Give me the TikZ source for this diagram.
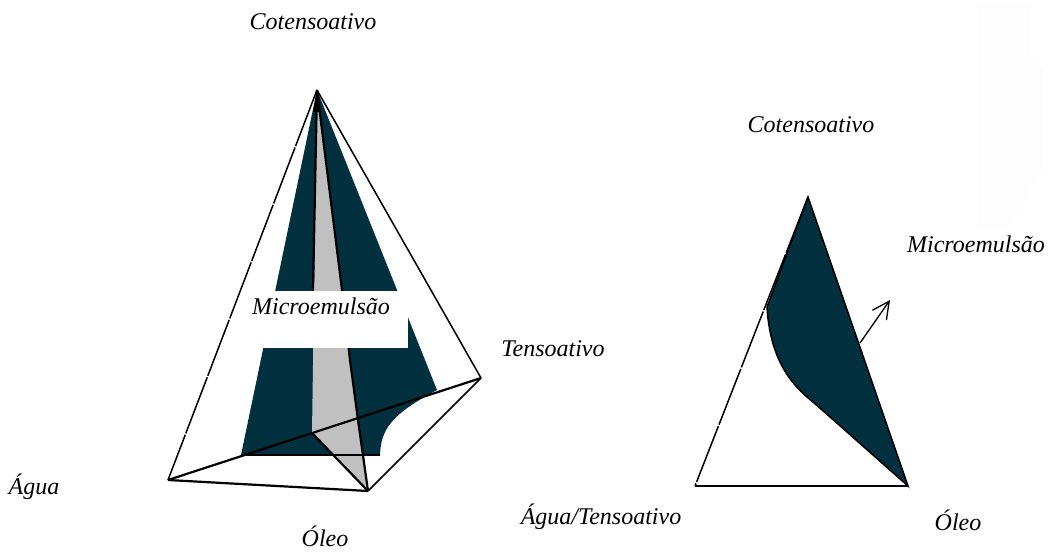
\documentclass[tikz,border=0pt]{standalone}
\usepackage{fontspec}
\setmainfont{Liberation Serif}
\usetikzlibrary{arrows.meta}

\definecolor{petrol}{HTML}{03303F}
\definecolor{palegrey}{HTML}{C0C0C0}
\definecolor{faint}{HTML}{FDFDFD}

\begin{document}
\begin{tikzpicture}[
    x=1pt,y=-1pt,
    font=\fontsize{24}{27}\selectfont\itshape,
    edge/.style={draw=black,line width=1.5pt},
    rough/.style={edge,dash pattern=on 60pt off 1.5pt},
    heavy/.style={draw=black,line width=2.2pt},
    >={Straight Barb[length=6mm,width=6mm]},
    arr/.style={->,line width=1.3pt}
  ]
  \useasboundingbox (0,0) rectangle (1048,553);

  % faint patch in the corner
  \fill[faint] (977,5) -- (1031,5) -- (1031,60) -- (1043,68) -- (1043,170)
    -- (1008,227) -- (977,227) -- cycle;

  % corners of the pyramid
  \coordinate (apex)  at (317,90);
  \coordinate (water) at (168,480);
  \coordinate (oil)   at (368,491);
  \coordinate (surf)  at (481,378);
  % corners of the section
  \coordinate (top)   at (808,197);
  \coordinate (left)  at (695,486);
  \coordinate (right) at (908,486);
  \coordinate (from)  at (860,343);
  \coordinate (to)    at (890,300);

  % dark region and grey slice
  \fill[petrol] (apex) -- (241,455) -- (380,455)
    .. controls (381,430) and (390,415) .. (437,390) -- cycle;
  \fill[palegrey] (apex) -- (312,433) -- (oil) -- (358,420) -- (342,290) -- cycle;
  \draw[heavy] (apex) -- (313,290);
  \draw[heavy] (apex) -- (342,290) -- (350,360) -- (358,420) -- (oil);
  \draw[heavy] (312,433) -- (oil);
  \draw[heavy] (241,455) -- (380,455);
  \fill[black] (apex) -- (313,112) -- (321,112) -- cycle;

  % white band behind the label
  \fill[white] (245,291) rectangle (408,348);

  % pyramid edges
  \draw[rough] (apex) -- (water);
  \draw[edge] (apex) -- (surf);
  \draw[edge] (surf) -- (oil);
  \draw[heavy] (water) -- (oil);
  \draw[heavy] (water) -- (surf);

  % section
  \draw[rough] (top) -- (left);
  \filldraw[petrol,edge,fill=petrol] (top) -- (right) -- (847,432) -- (813,402)
    .. controls (790,384) and (770,358) .. (767,307) -- cycle;
  \draw[heavy] (left) -- (right);
  \draw[arr] (from) -- (to);

  \node (cotop)  at (313,22)  {Cotensoativo};
  \node (cosec)  at (811,125) {Cotensoativo};
  \node (mepyr)  at (321,306) {Microemulsão};
  \node (mesec)  at (976,244) {Microemulsão};
  \node (tenso)  at (553,349) {Tensoativo};
  \node (agua)   at (34,487)  {Água};
  \node (oleop)  at (325,536) {Óleo};
  \node (aguate) at (601,517) {Água/Tensoativo};
  \node (oleos)  at (958,520) {Óleo};
\end{tikzpicture}
\end{document}
